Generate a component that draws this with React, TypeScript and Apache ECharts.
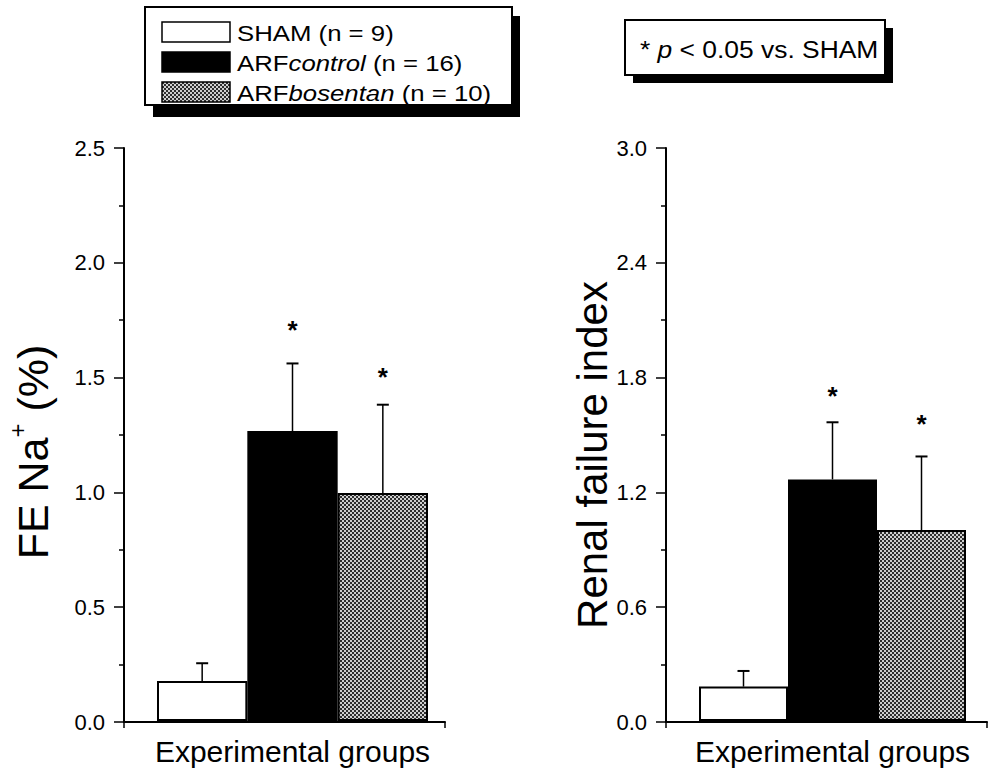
import React, { useEffect, useRef } from 'react';
import * as echarts from 'echarts';

// ---- data ----
const categories = ['SHAM', 'ARFcontrol', 'ARFbosentan'];
const legendParts: [string, string, string][] = [
  ['SHAM', '', ' (n = 9)'],
  ['ARF', 'control', ' (n = 16)'],
  ['ARF', 'bosentan', ' (n = 10)'],
];
const feNaMean = [0.175, 1.265, 0.995];
const feNaErrTop = [0.252, 1.56, 1.38];
const feNaStar: (number | null)[] = [null, 1.73, 1.525];
const rfiMean = [0.18, 1.265, 1.0];
const rfiErrTop = [0.262, 1.564, 1.385];
const rfiStar: (number | null)[] = [null, 1.735, 1.585];
const feNaAxis = { min: 0, max: 2.5, interval: 0.5 };
const rfiAxis = { min: 0, max: 3.0, interval: 0.6 };
const yTitleLeft = ['FE Na', '+', ' (%)'];
const yTitleRight = 'Renal failure index';
const xTitle = 'Experimental groups';
const pNote = ['* ', 'p', ' < 0.05 vs. SHAM'];

const FONT = '"Liberation Sans", Arial, Helvetica, sans-serif';

function makePattern(): any {
  const c = document.createElement('canvas');
  c.width = 4;
  c.height = 4;
  const ctx = c.getContext('2d')!;
  ctx.fillStyle = '#cfcfcf';
  ctx.fillRect(0, 0, 4, 4);
  ctx.fillStyle = '#2e2e2e';
  ctx.fillRect(0, 0, 2, 2);
  ctx.fillRect(2, 2, 2, 2);
  return { image: c.toDataURL(), repeat: 'repeat', imageWidth: 4, imageHeight: 4 };
}

export default function App() {
  const ref = useRef<HTMLDivElement>(null);

  useEffect(() => {
    if (!ref.current) return;
    const chart = echarts.init(ref.current, undefined, { renderer: 'svg' });
    const pattern = makePattern();
    const fills: any[] = ['#ffffff', '#000000', pattern];

    const yAxisVisible = (ax: any, gridIndex: number) => ({
      type: 'value',
      gridIndex,
      min: ax.min,
      max: ax.max,
      interval: ax.interval,
      axisLine: { show: true, onZero: false, lineStyle: { color: '#000', width: 2 } },
      axisTick: { show: true, length: 10, lineStyle: { color: '#000', width: 1.5 } },
      minorTick: { show: true, splitNumber: 2, length: 5, lineStyle: { color: '#000', width: 1.5 } },
      axisLabel: {
        show: true,
        margin: 19,
        fontSize: 22,
        fontFamily: FONT,
        color: '#000',
        formatter: (v: number) => v.toFixed(1),
      },
      splitLine: { show: false },
      minorSplitLine: { show: false },
    });
    const yAxisHidden = (ax: any, gridIndex: number) => ({
      type: 'value',
      gridIndex,
      min: ax.min,
      max: ax.max,
      show: false,
      splitLine: { show: false },
    });
    const xAxisFrame = (gridIndex: number) => ({
      type: 'value',
      gridIndex,
      min: 0,
      max: 1,
      interval: 1,
      axisLine: { show: true, onZero: false, lineStyle: { color: '#000', width: 2 } },
      axisTick: { show: true, length: 6, lineStyle: { color: '#000', width: 1.5 } },
      axisLabel: { show: false },
      splitLine: { show: false },
    });
    const xAxisBars = (gridIndex: number) => ({
      type: 'category',
      gridIndex,
      data: categories,
      boundaryGap: true,
      axisLine: { show: false },
      axisTick: { show: false },
      axisLabel: { show: false },
      splitLine: { show: false },
      name: xTitle,
      nameLocation: 'middle',
      nameGap: 15,
      nameTextStyle: { fontSize: 30, fontFamily: FONT, color: '#000' },
    });

    const barSeries = (means: number[], xi: number, yi: number) => ({
      type: 'bar',
      xAxisIndex: xi,
      yAxisIndex: yi,
      barWidth: '100%',
      barCategoryGap: '0%',
      data: means.map((v, i) => ({
        value: v,
        itemStyle: { color: fills[i], borderColor: '#000', borderWidth: 2 },
      })),
      z: 2,
    });
    const errSeries = (means: number[], tops: number[], xi: number, yi: number) => ({
      type: 'custom',
      xAxisIndex: xi,
      yAxisIndex: yi,
      data: means.map((v, i) => [i, v, tops[i]]),
      z: 3,
      renderItem: (params: any, api: any) => {
        const base = api.coord([api.value(0), api.value(1)]);
        const top = api.coord([api.value(0), api.value(2)]);
        return {
          type: 'group',
          children: [
            {
              type: 'line',
              shape: { x1: base[0], y1: base[1], x2: top[0], y2: top[1] },
              style: { stroke: '#000', lineWidth: 1.5 },
            },
            {
              type: 'line',
              shape: { x1: top[0] - 6, y1: top[1], x2: top[0] + 6, y2: top[1] },
              style: { stroke: '#000', lineWidth: 2 },
            },
          ],
        };
      },
    });
    const starSeries = (stars: (number | null)[], xi: number, yi: number) => ({
      type: 'custom',
      xAxisIndex: xi,
      yAxisIndex: yi,
      data: stars.map((v, i) => (v == null ? null : [i, v])).filter((d) => d != null),
      z: 3,
      renderItem: (params: any, api: any) => {
        const p = api.coord([api.value(0), api.value(1)]);
        return {
          type: 'text',
          x: p[0],
          y: p[1] + 6,
          style: {
            text: '*',
            fontSize: 26,
            fontWeight: 'bold',
            fontFamily: FONT,
            fill: '#000',
            align: 'center',
            verticalAlign: 'middle',
          },
        };
      },
    });

    const legendRowsY = [32, 62, 92];
    const legendGraphics: any[] = [
      { type: 'rect', shape: { x: 153, y: 16, width: 367, height: 101 }, style: { fill: '#000' } },
      {
        type: 'rect',
        shape: { x: 145, y: 7, width: 367, height: 98 },
        style: { fill: '#fff', stroke: '#000', lineWidth: 2 },
      },
    ];
    legendParts.forEach((parts, i) => {
      legendGraphics.push({
        type: 'rect',
        shape: { x: 162, y: legendRowsY[i] - 10, width: 68, height: 20 },
        style: { fill: fills[i], stroke: '#000', lineWidth: 1.5 },
      });
      const txt = '{a|' + parts[0] + '}' + (parts[1] ? '{i|' + parts[1] + '}' : '') + '{a|' + parts[2] + '}';
      legendGraphics.push({
        type: 'text',
        x: 237,
        y: legendRowsY[i] + 1,
        scaleX: 1.12,
        style: {
          text: txt,
          verticalAlign: 'middle',
          fill: '#000',
          rich: {
            a: { fontSize: 23, fontFamily: FONT, fill: '#000' },
            i: { fontSize: 23, fontFamily: FONT, fontStyle: 'italic', fill: '#000' },
          },
        },
      });
    });

    const pGraphics: any[] = [
      { type: 'rect', shape: { x: 633, y: 28, width: 260, height: 55 }, style: { fill: '#000' } },
      {
        type: 'rect',
        shape: { x: 625, y: 20, width: 260, height: 55 },
        style: { fill: '#fff', stroke: '#000', lineWidth: 2 },
      },
      {
        type: 'text',
        x: 640,
        y: 49,
        scaleX: 1.1,
        style: {
          text: '{a|' + pNote[0] + '}{i|' + pNote[1] + '}{a|' + pNote[2] + '}',
          verticalAlign: 'middle',
          fill: '#000',
          rich: {
            a: { fontSize: 24, fontFamily: FONT, fill: '#000' },
            i: { fontSize: 24, fontFamily: FONT, fontStyle: 'italic', fill: '#000' },
          },
        },
      },
    ];

    const titleGraphics: any[] = [
      {
        type: 'text',
        x: 33,
        y: 452,
        rotation: Math.PI / 2,
        style: {
          text: '{b|' + yTitleLeft[0] + '}{s|' + yTitleLeft[1] + '}{b|' + yTitleLeft[2] + '}',
          align: 'center',
          verticalAlign: 'middle',
          fill: '#000',
          rich: {
            b: { fontSize: 43, fontFamily: FONT, fill: '#000', lineHeight: 56 },
            s: { fontSize: 24, fontFamily: FONT, fill: '#000', verticalAlign: 'top', lineHeight: 24 },
          },
        },
      },
      {
        type: 'text',
        x: 592,
        y: 455,
        rotation: Math.PI / 2,
        style: {
          text: yTitleRight,
          fontSize: 42,
          fontFamily: FONT,
          fill: '#000',
          align: 'center',
          verticalAlign: 'middle',
        },
      },
    ];

    chart.setOption({
      animation: false,
      backgroundColor: '#fff',
      grid: [
        { left: 124, top: 148, width: 321, height: 574 },
        { left: 157, top: 148, width: 271, height: 574 },
        { left: 666, top: 148, width: 321, height: 574 },
        { left: 699, top: 148, width: 267, height: 574 },
      ],
      xAxis: [xAxisFrame(0), xAxisBars(1), xAxisFrame(2), xAxisBars(3)],
      yAxis: [
        yAxisVisible(feNaAxis, 0),
        yAxisHidden(feNaAxis, 1),
        yAxisVisible(rfiAxis, 2),
        yAxisHidden(rfiAxis, 3),
      ],
      series: [
        barSeries(feNaMean, 1, 1),
        errSeries(feNaMean, feNaErrTop, 1, 1),
        starSeries(feNaStar, 1, 1),
        barSeries(rfiMean, 3, 3),
        errSeries(rfiMean, rfiErrTop, 3, 3),
        starSeries(rfiStar, 3, 3),
      ],
      graphic: [...legendGraphics, ...pGraphics, ...titleGraphics],
    });

    return () => {
      chart.dispose();
    };
  }, []);

  return (
    <div
      ref={ref}
      style={{ position: 'absolute', left: 0, top: 0, width: 990, height: 771, background: '#fff' }}
    />
  );
}
